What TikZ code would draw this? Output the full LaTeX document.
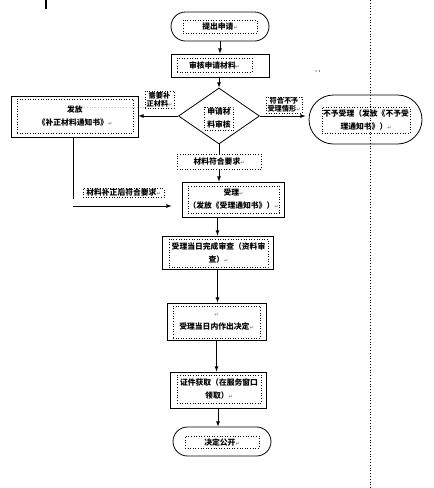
\documentclass[tikz,border=0pt]{standalone}
\usepackage{fontspec}
\newfontfamily\cjk{Noto Sans CJK SC}
\newfontfamily\symfont{DejaVu Sans}
\usetikzlibrary{arrows,positioning,shapes.geometric,shapes.misc}
\newcommand{\ret}{{\symfont\color{gray}\fontsize{5}{5}\selectfont ↵}}

\begin{document}
\begin{tikzpicture}[x=1pt,y=-1pt,
  box/.style={draw, line width=0.8pt, inner sep=0pt},
  term/.style={draw, rounded rectangle, line width=0.8pt, inner sep=0pt},
  txt/.style={draw, dotted, line width=0.6pt, inner sep=0pt, align=center,
    font=\cjk\bfseries\fontsize{7.8}{13}\selectfont},
  lbl/.style={txt, font=\cjk\bfseries\fontsize{7.2}{8}\selectfont},
  arr/.style={-latex, line width=0.8pt}]
\useasboundingbox (0,0) rectangle (434,488);
% main column
\node[term, minimum width=98, minimum height=29] (start) at (220,26.5) {};
\node[txt, minimum width=74, minimum height=13] (startt) at (220,26.5) {提出申请\ret};
\node[box, minimum width=98, minimum height=23] (review) at (220,65.5) {};
\node[txt, minimum width=75, minimum height=14] (reviewt) at (214.5,65) {审核申请材料\ret};
\node[draw, diamond, line width=0.8pt, inner sep=0pt, minimum width=81, minimum height=56] (dia) at (219,116) {};
\node[txt, minimum width=29, minimum height=23] (diat) at (219,118.5) {申请材\\料审核};
% left branch
\node[box, minimum width=127, minimum height=41] (notice) at (74.5,116.5) {};
\node[txt, minimum width=116, minimum height=34] (noticet) at (75,116) {发放\\《补正材料通知书》\ret};
\node[lbl, minimum width=29, minimum height=17] (needt) at (159.5,99.5) {需要补\\正材料\ret};
\draw[gray!50, dotted, line width=0.8pt] (84,107) -- (needt.west |- 84,107);
% right branch
\node[lbl, minimum width=36, minimum height=16] (rejt) at (284,105) {符合不予\\受理情形\ret};
\node[term, minimum width=113, minimum height=49] (reject) at (365.5,119.5) {};
\node[txt, minimum width=88, minimum height=26] (rejectt) at (366,120) {不予受理（发放《不予受\\理通知书》）\ret};
% acceptance
\node[txt, minimum width=84, minimum height=15] (okt) at (219,161.5) {材料符合要求\ret};
\node[box, minimum width=102, minimum height=35] (accept) at (233,199.5) {};
\node[txt, minimum width=91, minimum height=27] (acceptt) at (233.5,199.5) {受理\ret\\（发放《受理通知书》）\ret};
\node[txt, minimum width=81, minimum height=9] (fixt) at (123.5,193) {材料补正后符合要求\ret};
\coordinate (back) at (73,206);
\node[box, minimum width=111, minimum height=33] (check) at (217.5,252.5) {};
\node[txt, minimum width=99, minimum height=28] (checkt) at (218.5,253) {受理当日完成审查（资料审\\查）\ret};
\node[box, minimum width=99, minimum height=37] (decide) at (216.5,321.5) {};
\node[txt, minimum width=87, minimum height=32] (decidet) at (216.5,322) {\ret\\受理当日内作出决定\ret};
\node[box, minimum width=96, minimum height=36] (collect) at (218,390) {};
\node[txt, minimum width=84, minimum height=28] (collectt) at (219,389) {证件获取（在服务窗口\\领取）\ret};
\node[term, minimum width=98, minimum height=29] (finish) at (222,441.5) {};
\node[txt, minimum width=74, minimum height=12] (finisht) at (222,442) {决定公开\ret};
% connectors
\draw[arr] (start) -- (review);
\draw[arr] (dia.north |- review.south) -- (dia.north);
\draw[arr] (dia.west) -- (dia.west -| notice.east);
\draw[arr, shorten >=3pt] (dia.east) -- (dia.east -| reject.west);
\draw[line width=0.8pt] (dia.south) -- (dia.south |- okt.north);
\draw[arr] (okt.south) -- (okt.south |- accept.north);
\draw[line width=0.8pt] (notice.south -| back) -- ++(0,62);
\draw[arr, shorten >=10pt] (back) -- (back -| accept.west);
\draw[arr] (check.north |- accept.south) -- (check.north);
\draw[arr] (check.south) -- (check.south |- decide.north);
\draw[arr] (decide.south) -- (decide.south |- collect.north);
\draw[arr] (collect.south) -- (collect.south |- finish.north);
% page marks
\draw[dotted, line width=0.8pt] (370,0) -- (370,488);
\draw[line width=1.2pt] (46,0) -- (46,9);
\fill (316,71) circle (0.6);
\fill (319.5,71) circle (0.6);
\end{tikzpicture}
\end{document}
